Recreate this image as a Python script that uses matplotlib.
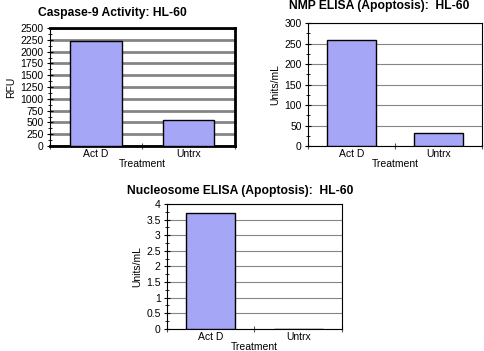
import matplotlib
matplotlib.use("Agg")
import matplotlib.pyplot as plt
from matplotlib.ticker import MultipleLocator, FixedLocator, NullFormatter, FormatStrFormatter

plt.rcParams['font.family'] = ['Liberation Sans', 'DejaVu Sans']

categories = ["Act D", "Untrx"]
caspase = [2220, 550]
nmp = [260, 32]
nucleosome = [3.7, 0.0]

bar_color = "#A6A6F6"


def panel(ax, values, title, title_x, title_pad, ylabel, ymax, step, heavy=False):
    x = range(len(categories))
    ax.bar(x, values, width=0.56, color=bar_color, edgecolor="black",
           linewidth=1.0, zorder=3)
    ax.set_xlim(-0.5, len(categories) - 0.5)
    ax.set_ylim(0, ymax)
    ax.yaxis.set_major_locator(MultipleLocator(step))
    ax.yaxis.set_minor_locator(MultipleLocator(step / 2))
    ax.yaxis.set_major_formatter(FormatStrFormatter("%g"))
    ax.grid(axis="y", color="#858585", linewidth=2.0 if heavy else 0.8, zorder=0)
    ax.xaxis.set_major_locator(FixedLocator([-0.5, 0.5, 1.5]))
    ax.xaxis.set_major_formatter(NullFormatter())
    ax.xaxis.set_minor_locator(FixedLocator(list(x)))
    ax.set_xticklabels(categories, minor=True)
    ax.tick_params(axis="x", which="minor", length=0, labelsize=7.5, pad=2)
    ax.tick_params(axis="x", which="major", direction="inout", length=5, color="#555555")
    ax.tick_params(axis="y", which="major", direction="inout", length=5, labelsize=7.5, pad=2)
    ax.tick_params(axis="y", which="minor", direction="inout", length=3)
    for s in ax.spines.values():
        s.set_linewidth(2.0 if heavy else 0.8)
    ax.spines["left"].set_linewidth(0.8)
    ax.set_title(title, fontsize=8.7, fontweight="bold", x=title_x, pad=title_pad)
    ax.set_ylabel(ylabel, fontsize=7.5, labelpad=3)
    ax.set_xlabel("Treatment", fontsize=7.5, labelpad=0)


fig = plt.figure(figsize=(4.85, 3.51), dpi=100)
ax1 = fig.add_axes([0.103, 0.584, 0.381, 0.336])
ax2 = fig.add_axes([0.635, 0.584, 0.359, 0.350])
ax3 = fig.add_axes([0.344, 0.063, 0.361, 0.356])

panel(ax1, caspase, "Caspase-9 Activity: HL-60", 0.34, 8.5, "RFU", 2500, 250, heavy=True)
panel(ax2, nmp, "NMP ELISA (Apoptosis):  HL-60", 0.41, 10.5, "Units/mL", 300, 50)
panel(ax3, nucleosome, "Nucleosome ELISA (Apoptosis):  HL-60", 0.42, 7.5, "Units/mL", 4, 0.5)

fig.savefig("out.png", dpi=100)
